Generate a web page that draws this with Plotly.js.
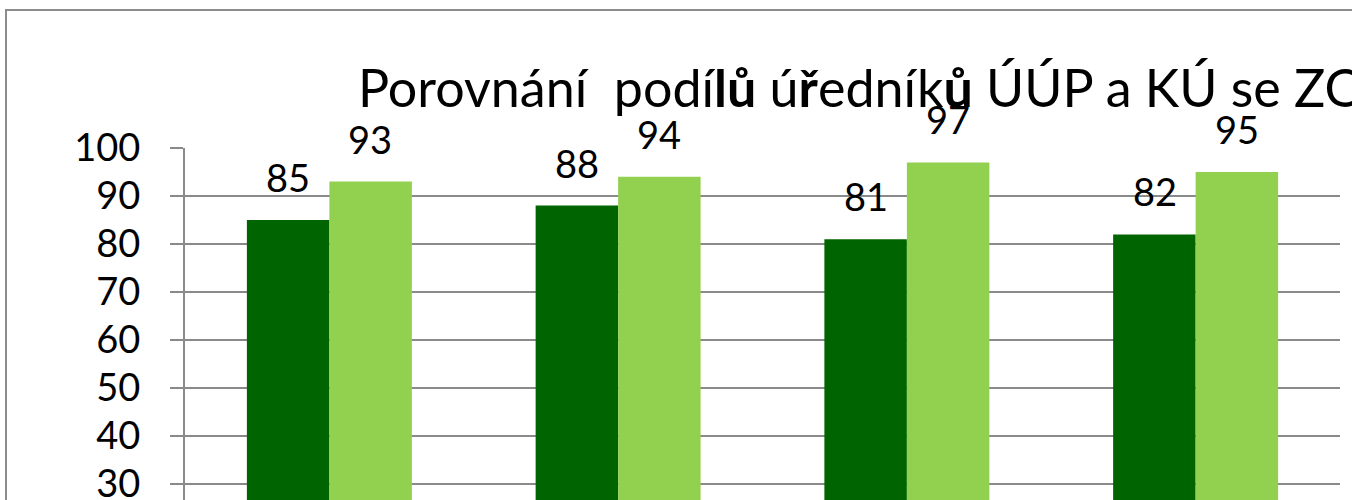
<!DOCTYPE html>
<html>
<head>
<meta charset="utf-8">
<script src="https://cdn.plot.ly/plotly-3.0.1.min.js"></script>
<style>
  html, body { margin: 0; padding: 0; background: #ffffff; overflow: hidden; }
  #chart { width: 1352px; height: 500px; }
</style>
</head>
<body>
<div id="chart"></div>
<script>
// Data
const categories = ["Kategorie 1", "Kategorie 2", "Kategorie 3", "Kategorie 4"];
const seriesNames = ["ÚÚP", "KÚ"];
const valuesUUP = [85, 88, 81, 82];
const valuesKU = [93, 94, 97, 95];
const yTicks = [30, 40, 50, 60, 70, 80, 90, 100];
const titleText = "Porovnání\u00A0\u00A0podí<b>l</b><b>ů</b> ú<b>ř</b>edník<b>ů</b> ÚÚP a KÚ se ZOZ";

const FONT = "Lato, 'Open Sans', sans-serif";
const GRID = "#8a8a8a";

const traces = [
  { type: "bar", name: seriesNames[0], x: categories, y: valuesUUP,
    marker: { color: "#006400" }, hoverinfo: "x+y+name" },
  { type: "bar", name: seriesNames[1], x: categories, y: valuesKU,
    marker: { color: "#92D050" }, hoverinfo: "x+y+name" }
];

const annotations = [];
[valuesUUP, valuesKU].forEach((vals, si) => {
  vals.forEach((v, i) => {
    annotations.push({
      x: categories[i], y: v, xref: "x", yref: "y",
      text: String(v), showarrow: false,
      xanchor: "center", yanchor: "bottom",
      xshift: si === 0 ? -41 : 41, yshift: 18,
      font: { family: FONT, size: 38, color: "#000000" }
    });
  });
});

// plot area: 148px (value 100) down to 500px; 10 units = 48px
const yBottom = 100 - (500 - 148) / 4.8;

const layout = {
  width: 1352, height: 500,
  paper_bgcolor: "#ffffff", plot_bgcolor: "#ffffff",
  margin: { l: 185, r: 12, t: 148, b: 0, pad: 0 },
  showlegend: false,
  barmode: "group", bargap: 0.4286, bargroupgap: 0,
  font: { family: FONT, color: "#000000" },
  title: {
    text: titleText,
    font: { family: FONT, size: 52, color: "#000000" },
    x: 358 / 1352, xref: "container", xanchor: "left",
    y: 1 - 107 / 500, yref: "container", yanchor: "bottom"
  },
  xaxis: {
    type: "category", range: [-0.5, 3.5],
    showgrid: false, zeroline: false, showline: false,
    ticks: "", showticklabels: false
  },
  yaxis: {
    range: [yBottom, 100],
    tickmode: "array", tickvals: yTicks, ticktext: yTicks.map(String),
    ticklabeloverflow: "allow",
    showgrid: true, gridcolor: GRID, gridwidth: 2,
    zeroline: false,
    showline: true, linecolor: GRID, linewidth: 2,
    ticks: "outside", ticklen: 13, tickwidth: 2, tickcolor: GRID,
    ticklabelstandoff: 22,
    tickfont: { family: FONT, size: 38, color: "#000000" }
  },
  shapes: [{
    type: "rect", xref: "paper", yref: "paper", layer: "below",
    x0: (6 - 185) / 1155, x1: (1420 - 185) / 1155,
    y0: -0.2, y1: 1 + (148 - 10) / 352,
    line: { color: "#8c8c8c", width: 2 }, fillcolor: "rgba(0,0,0,0)"
  }],
  annotations: annotations
};

Plotly.newPlot("chart", traces, layout, { displayModeBar: false, staticPlot: true });
</script>
</body>
</html>
